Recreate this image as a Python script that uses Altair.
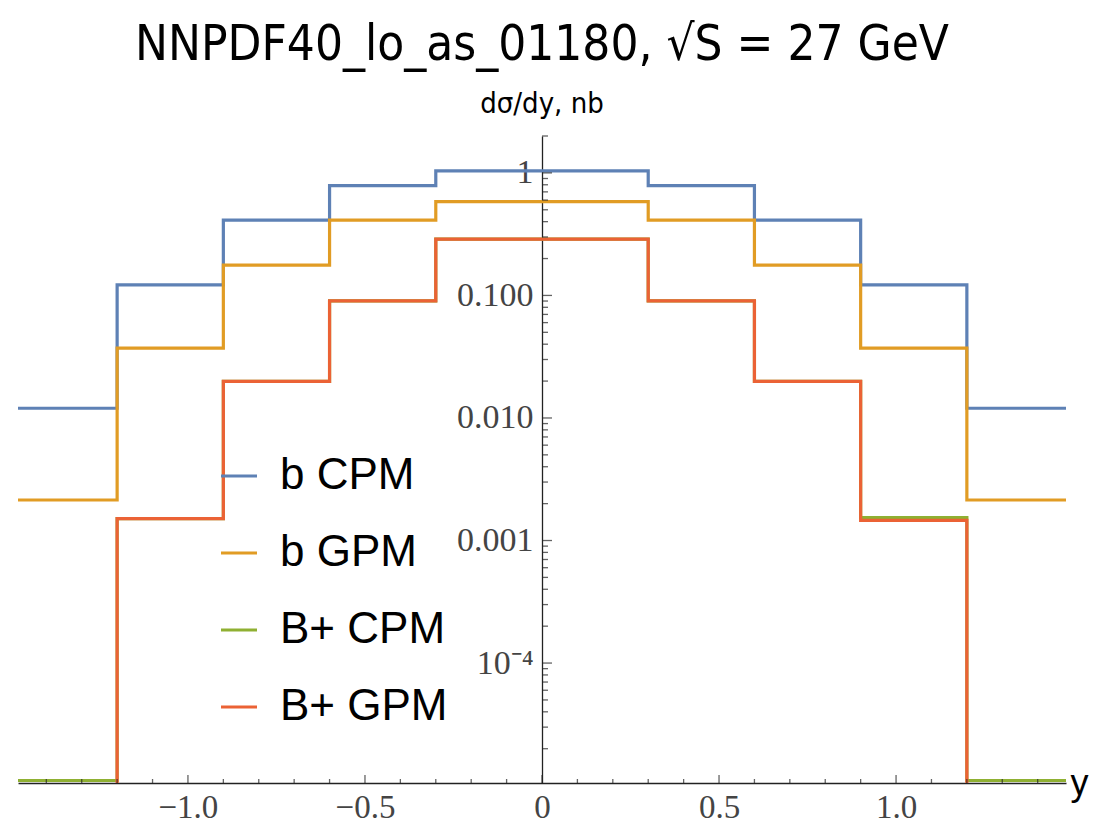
import altair as alt
import pandas as pd

# ---- data ----
edges = [-1.5, -1.2, -0.9, -0.6, -0.3, 0.0, 0.3, 0.6, 0.9, 1.2, 1.5]
series_names = ["b CPM", "b GPM", "B+ CPM", "B+ GPM"]
b_cpm = [0.0120, 0.122, 0.411, 0.787, 1.04, 1.04, 0.787, 0.411, 0.122, 0.0120]
b_gpm = [0.00214, 0.0372, 0.177, 0.411, 0.583, 0.583, 0.411, 0.177, 0.0372, 0.00214]
bp_cpm = [1.1e-5, 0.00151, 0.0199, 0.0904, 0.288, 0.288, 0.0904, 0.0199, 0.00154, 1.1e-5]
bp_gpm = [1e-6, 0.00151, 0.0199, 0.0904, 0.288, 0.288, 0.0904, 0.0199, 0.00146, 1e-6]
colors = ["#5E81B5", "#E19C24", "#8FB032", "#EB6235"]

x_major = [-1.0, -0.5, 0.0, 0.5, 1.0]
x_labels = ["\u22121.0", "\u22120.5", "0", "0.5", "1.0"]
x_minor = [-1.4, -1.3, -1.2, -1.1, -0.9, -0.8, -0.7, -0.6, -0.4, -0.3, -0.2, -0.1,
           0.1, 0.2, 0.3, 0.4, 0.6, 0.7, 0.8, 0.9, 1.1, 1.2, 1.3, 1.4]
y_major = [1.0, 0.1, 0.01, 0.001, 0.0001]
y_labels = ["1", "0.100", "0.010", "0.001", "10\u207b\u2074"]
y_minor = [m * 10.0 ** e for e in range(-5, 1) for m in range(2, 10) if m * 10.0 ** e <= 2.0]

W, H = 1048, 647
x_domain = [-1.48, 1.48]
y_domain = [1.05e-5, 2.0]

all_vals = [b_cpm, b_gpm, bp_cpm, bp_gpm]
rows = []
for name, vals in zip(series_names, all_vals):
    for i, v in enumerate(vals):
        rows.append({"series": name, "x": edges[i], "v": v})
    rows.append({"series": name, "x": edges[-1], "v": vals[-1]})
df = pd.DataFrame(rows)

def label_expr(values, labels):
    expr = "''"
    for val, lab in zip(values, labels):
        expr = f"abs(datum.value - ({val})) < {abs(val) * 0.01 + 1e-9} ? '{lab}' : " + expr
    return expr

x_axis = alt.Axis(
    values=x_major, labelExpr=label_expr(x_major, x_labels), ticks=False, tickSize=0,
    grid=False, domainColor="#222", domainWidth=1.3, labelFont="Liberation Serif",
    labelFontSize=33, labelColor="#444", labelPadding=8, labelOverlap=False,
    labelFlush=False, title="y", titleX=1052, titleY=11, titleAlign="left",
    titleBaseline="alphabetic", titleFont="Liberation Sans", titleFontSize=36,
    titleFontWeight="normal", titleColor="black",
)
y_axis = alt.Axis(
    values=y_major, labelExpr=label_expr(y_major, y_labels), ticks=False, tickSize=0,
    grid=False, domainColor="#222", domainWidth=1.3, labelFont="Liberation Serif",
    labelFontSize=34, labelColor="#444", labelPadding=9, labelOverlap=False,
    offset=-(W / 2), title=None,
)
x_scale = alt.Scale(domain=x_domain, nice=False, zero=False)
y_scale = alt.Scale(type="log", domain=y_domain, nice=False)
color_scale = alt.Scale(domain=series_names, range=colors)

layers = []
for name in series_names:
    layers.append(
        alt.Chart(df).transform_filter(alt.datum.series == name)
        .mark_line(interpolate="step-after", clip=True, strokeWidth=3.2)
        .encode(
            x=alt.X("x:Q", scale=x_scale, axis=x_axis),
            y=alt.Y("v:Q", scale=y_scale, axis=y_axis),
            color=alt.Color("series:N", scale=color_scale, title=None,
                            legend=alt.Legend(orient="none", legendX=199, legendY=318,
                                              symbolType="stroke", symbolSize=1296,
                                              symbolStrokeWidth=3.2, labelFont="Liberation Sans",
                                              labelFontSize=44, labelColor="black",
                                              rowPadding=33, labelOffset=19, padding=0,
                                              labelLimit=400)),
        )
    )

xmaj = pd.DataFrame({"x": x_major})
xmin = pd.DataFrame({"x": x_minor})
ymaj = pd.DataFrame({"v": y_major})
ymin = pd.DataFrame({"v": y_minor})

tick_style = dict(color="#222", thickness=1.3)
layers.append(alt.Chart(xmaj).mark_tick(orient="vertical", size=8, yOffset=-4, **tick_style)
              .encode(x=alt.X("x:Q", scale=x_scale, axis=x_axis), y=alt.value(H)))
layers.append(alt.Chart(xmin).mark_tick(orient="vertical", size=4, yOffset=-2, **tick_style)
              .encode(x=alt.X("x:Q", scale=x_scale, axis=x_axis), y=alt.value(H)))
layers.append(alt.Chart(ymaj).mark_tick(orient="horizontal", size=10, xOffset=5, **tick_style)
              .encode(x=alt.X(datum=0, scale=x_scale, axis=x_axis),
                      y=alt.Y("v:Q", scale=y_scale, axis=y_axis)))
layers.append(alt.Chart(ymin).mark_tick(orient="horizontal", size=6, xOffset=3, **tick_style)
              .encode(x=alt.X(datum=0, scale=x_scale, axis=x_axis),
                      y=alt.Y("v:Q", scale=y_scale, axis=y_axis)))

chart = alt.layer(*layers).properties(
    width=W, height=H,
    background="white",
    autosize=alt.AutoSizeParams(type="none"),
    padding={"left": 10, "top": 128, "right": 24, "bottom": 40},
    title=alt.TitleParams(
        text="NNPDF40_lo_as_01180, \u221aS = 27 GeV",
        subtitle="d\u03c3/dy, nb",
        anchor="middle", font="Liberation Sans Narrow, DejaVu Sans Condensed, Roboto",
        fontSize=49, fontWeight="normal", color="black",
        subtitleFont="Liberation Sans Narrow, DejaVu Sans Condensed, Roboto",
        subtitleFontSize=29, subtitleColor="black", subtitlePadding=20, offset=16,
    ),
).configure_view(strokeWidth=0, stroke="transparent")

chart.save("out.html", embed_options={"renderer": "svg", "actions": False})
